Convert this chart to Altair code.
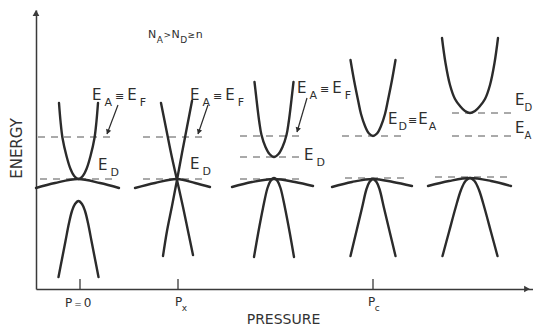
import math
import altair as alt
import pandas as pd

# ---------------- data (arbitrary pressure / energy units) ----------------
curve_names = ["cb1", "vb1", "lh1",
               "xa2", "xb2", "lh2",
               "cb3", "vb3", "lh3",
               "cb4", "vb4", "lh4",
               "cb5", "vb5", "lh5"]
curve_x = [
    [23, 24.5, 26.5, 30.5, 34.5, 38.2, 42.5, 46.8, 50.5, 54.5, 58.5, 60.5, 62],
    [22.5, 26, 29.5, 33, 36, 39, 42.5, 46, 49, 52, 55.5, 59, 62.5],
    [0, 19, 42, 64, 83],
    [125, 130, 135, 141, 147, 152, 157],
    [127, 131, 136, 141, 146, 151, 156],
    [99, 119, 141, 159, 174],
    [218.5, 220, 221.5, 223.3, 225.5, 229.5, 233.5, 238, 242.5, 246.5, 250.5, 252.7, 254.5, 256, 257.5],
    [218, 222.2, 227, 231.5, 234.5, 238, 241.5, 244.5, 249, 253.8, 258],
    [196, 216, 238, 259, 277],
    [314.5, 318, 322, 325, 329, 333, 337, 341, 345, 349, 352, 356, 359.5],
    [314.5, 320.5, 326, 330.5, 333.5, 337, 340.5, 343.5, 348, 353.5, 359.5],
    [296, 316, 337, 357, 376],
    [406, 409.5, 414, 419, 424, 429, 434, 439, 444, 449, 454, 458.5, 462],
    [406.5, 413, 419.5, 425, 429.5, 434, 438.5, 443, 448.5, 455, 461.5],
    [392, 413, 434, 455, 475],
]
curve_y = [
    [186, 168, 151, 133, 120, 113, 110, 113, 120, 133, 151, 168, 186],
    [12, 30, 48, 66, 78, 85, 88, 85, 78, 66, 48, 30, 12],
    [101, 106, 110, 106, 101],
    [186, 161, 136, 109, 82, 58, 34],
    [33, 58, 83, 109, 136, 162, 188],
    [101, 106, 110, 106, 102],
    [207, 194, 181, 167, 154, 142, 135, 132, 135, 142, 154, 167, 181, 194, 207],
    [32, 56, 81, 101, 108, 111, 108, 101, 81, 56, 32],
    [102, 107, 110, 107, 103],
    [229, 209, 189, 175, 163, 155.5, 153, 155.5, 163, 175, 189, 209, 229],
    [33, 58, 81, 100, 107, 110, 107, 100, 81, 58, 33],
    [102, 107, 110, 107, 103],
    [251, 226, 204, 190, 183, 178, 176, 178, 183, 190, 204, 226, 251],
    [33, 57, 81, 99, 108, 111, 108, 99, 81, 57, 33],
    [103, 108, 111, 108, 103],
]

# Dashed energy levels
level_x1 = [2, 4, 107, 107, 204, 204, 204, 306, 309, 416, 416, 399]
level_x2 = [79, 77, 172, 172, 266, 264, 264, 369, 372, 476, 477, 477]
level_y = [152, 110, 152, 110, 153, 132, 110, 153, 111, 176, 153, 112]

# Arrows pointing from labels to the E_A = E_F levels
arrow_x1 = [82, 172, 271]
arrow_y1 = [184, 184, 191]
arrow_x2 = [71, 162, 261]
arrow_y2 = [155, 155, 157]

# Pressure ticks
tick_values = [44, 142, 337]

# Labels ("_" marks a subscript character)
label_text = ["E_A≡E_F", "E_A≡E_F", "E_A≡E_F", "E_D≡E_A", "E_D", "E_A",
              "E_D", "E_D", "E_D", "N_A>N_D≥n", "P=0", "P_x", "P_c"]
label_x = [56, 154, 261, 352, 479, 479, 62, 154, 268, 112, 29, 139, 332]
label_y = [189, 189, 196, 165, 184, 156, 119, 120, 129, 251, -18, -17, -17]

# ---------------- tables ----------------
rows = []
for name, xs_, ys_ in zip(curve_names, curve_x, curve_y):
    for xv, yv in zip(xs_, ys_):
        rows.append({"curve": name, "x": xv, "y": yv})
curves_df = pd.DataFrame(rows)

levels_df = pd.DataFrame({"x": level_x1, "x2": level_x2, "y": level_y})

arrows_df = pd.DataFrame({"x": arrow_x1, "y": arrow_y1, "x2": arrow_x2, "y2": arrow_y2})
heads = []
for x1, y1, x2, y2 in zip(arrow_x1, arrow_y1, arrow_x2, arrow_y2):
    dx, dy = x2 - x1, y2 - y1
    L = math.hypot(dx, dy)
    ang = (math.degrees(math.atan2(dx, dy)) + 360) % 360
    heads.append({"x": x2 - 3 * dx / L, "y": y2 - 3 * dy / L, "angle": ang})
heads_df = pd.DataFrame(heads)

ticks_df = pd.DataFrame({"x": tick_values})

WID = {'E': 0.632, 'A': 0.684, 'F': 0.575, 'D': 0.770, 'N': 0.748, 'P': 0.603,
       'n': 0.634, 'x': 0.592, 'c': 0.550, '0': 0.636, '≡': 0.838, '>': 0.838,
       '≥': 0.838, '=': 0.838}
SYM = "≡>≥="
trows = []
for i, (txt, ax, ay) in enumerate(zip(label_text, label_x, label_y)):
    if txt.startswith("N"):
        big, small, drop, gap = 11, 9, 5, 0.5
    elif txt.startswith("P"):
        big, small, drop, gap = 12, 9, 5, (-0.5 if "_" in txt else 2)
    elif txt == "E_D≡E_A":
        big, small, drop, gap = 15, 11, 6, 1
    elif ax > 470:
        big, small, drop, gap = 15, 10, 6, 0
    else:
        big, small, drop, gap = 15, 11, 6, 3
    cx = ax
    k = 0
    while k < len(txt):
        ch = txt[k]
        if ch == "_":
            ch = txt[k + 1]
            k += 2
            size, yy = small, ay - drop
        else:
            k += 1
            size = small if ch in SYM else big
            yy = ay
        trows.append({"x": cx, "y": yy, "t": ch, "size": size})
        cx += WID[ch] * size + gap
text_df = pd.DataFrame(trows)

# ---------------- chart ----------------
FONT = "DejaVu Sans"
INK = "#2b2b2b"
xs = alt.Scale(domain=[0, 497], nice=False, zero=False)
ys = alt.Scale(domain=[0, 279], nice=False, zero=False)
x_axis = alt.Axis(ticks=False, labels=False, grid=False, domainColor="#3a3a3a",
                  domainWidth=1.5, title="PRESSURE", titleFont=FONT, titleFontSize=14,
                  titleFontWeight="normal", titleColor="#333333", titleY=34,
                  titleX=247, titleAlign="center", titleBaseline="alphabetic")
y_axis = alt.Axis(ticks=False, labels=False, grid=False, domainColor="#3a3a3a",
                  domainWidth=1.5, title="ENERGY", titleFont=FONT, titleFontSize=15,
                  titleFontWeight="normal", titleColor="#333333", titleAngle=270,
                  titleX=-15, titleY=138, titleAlign="center", titleBaseline="alphabetic")


def X(f="x"):
    return alt.X(f, type="quantitative", scale=xs, axis=x_axis)


def Y(f="y"):
    return alt.Y(f, type="quantitative", scale=ys, axis=y_axis)


bands = alt.Chart(curves_df).mark_line(
    interpolate="catmull-rom", color=INK, strokeWidth=2.4, strokeCap="round"
).encode(x=X(), y=Y(), detail="curve:N", order="x:Q")

levels = alt.Chart(levels_df).mark_rule(
    color="#555555", strokeWidth=1, strokeDash=[7, 6]
).encode(x=X(), x2="x2:Q", y=Y())

arrows = alt.Chart(arrows_df).mark_rule(color=INK, strokeWidth=1.2).encode(
    x=X(), y=Y(), x2="x2:Q", y2="y2:Q")

heads_layer = alt.Chart(heads_df).mark_point(
    shape="triangle", filled=True, color=INK, size=30, opacity=1
).encode(x=X(), y=Y(), angle=alt.Angle("angle:Q", scale=None))

ticks = alt.Chart(ticks_df).mark_rule(color="#3a3a3a", strokeWidth=1.3).encode(
    x=X(), y=alt.datum(0), y2=alt.datum(10))

up_arrow = alt.Chart(pd.DataFrame({"x": [0], "y": [276]})).mark_point(
    shape="triangle-up", filled=True, color="#3a3a3a", size=45, opacity=1
).encode(x=X(), y=Y())
right_arrow = alt.Chart(pd.DataFrame({"x": [491], "y": [0]})).mark_point(
    shape="triangle-right", filled=True, color="#3a3a3a", size=45, opacity=1
).encode(x=X(), y=Y())

labels = alt.Chart(text_df).mark_text(
    align="left", baseline="alphabetic", font=FONT, color="#2e2e2e"
).encode(x=X(), y=Y(), text="t:N", size=alt.Size("size:Q", scale=None))

chart = alt.layer(
    levels, bands, arrows, heads_layer, ticks, up_arrow, right_arrow, labels
).properties(
    width=497, height=279,
    autosize=alt.AutoSizeParams(type="none"),
    padding={"left": 36, "top": 10, "right": 0, "bottom": 37},
    background="white",
).configure_view(stroke=None)

chart.save("out.html", embed_options={"renderer": "svg", "actions": False})
